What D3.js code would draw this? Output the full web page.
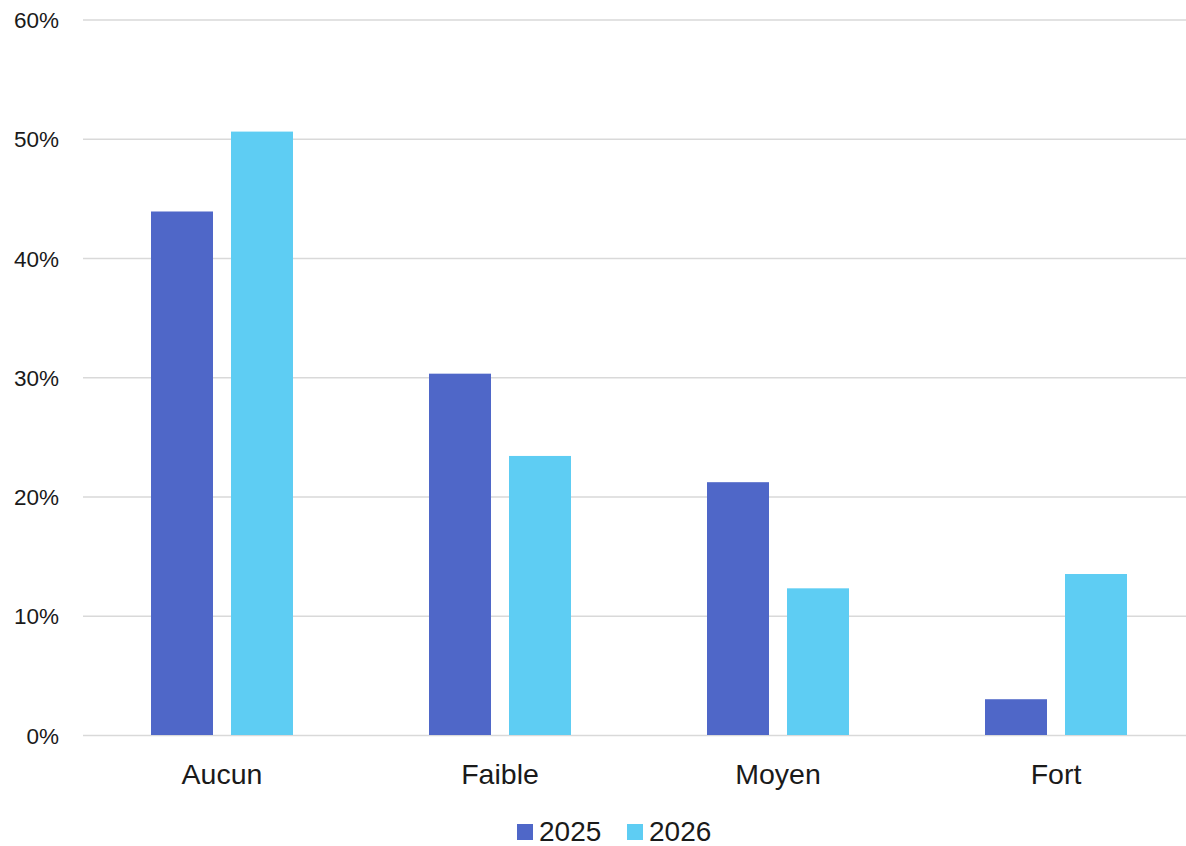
<!DOCTYPE html>
<html>
<head>
<meta charset="utf-8">
<script src="https://cdn.jsdelivr.net/npm/d3@7"></script>
<style>
  html, body { margin: 0; padding: 0; background: #fff; }
  svg { display: block; }
  text { font-family: "Liberation Sans", Arial, sans-serif; fill: #1a1a1a; }
</style>
</head>
<body>
<svg id="chart" width="1186" height="846"></svg>
<script>
const categories = ["Aucun", "Faible", "Moyen", "Fort"];
const seriesNames = ["2025", "2026"];
const values2025 = [43.9, 30.3, 21.2, 3.0];
const values2026 = [50.6, 23.4, 12.3, 13.5];
const yTicks = [0, 10, 20, 30, 40, 50, 60];
const colors = ["#4F67C8", "#5ECDF3"];

const seriesValues = [values2025, values2026];
const data = categories.map((c, i) => ({
  cat: c,
  vals: seriesNames.map((s, j) => ({ key: s, value: seriesValues[j][i] }))
}));

const svg = d3.select("#chart");
const x0 = d3.scaleBand().domain(categories).range([83, 1195]).paddingInner(0).paddingOuter(0);
const x1 = d3.scaleBand().domain(seriesNames).range([68, 210]).paddingInner(0.225).paddingOuter(0);
const y = d3.scaleLinear().domain([0, 60]).range([735, 19.5]);
const color = d3.scaleOrdinal().domain(seriesNames).range(colors);

// gridlines
const yAxis = d3.axisLeft(y).tickValues(yTicks).tickFormat(d => d + "%").tickSize(-(1195 - 83)).tickPadding(24);
const gy = svg.append("g").attr("transform", "translate(83,0)").call(yAxis);
gy.select(".domain").remove();
gy.selectAll(".tick line").attr("stroke", "#d9d9d9").attr("stroke-width", 1.5);
gy.selectAll(".tick text").style("font-size", "22.5px").attr("fill", "#1a1a1a").attr("dy", "0.36em");

// bars
const groups = svg.append("g").selectAll("g").data(data).join("g")
  .attr("transform", d => `translate(${x0(d.cat)},0)`);
groups.selectAll("rect").data(d => d.vals).join("rect")
  .attr("x", d => x1(d.key))
  .attr("width", x1.bandwidth())
  .attr("y", d => y(d.value))
  .attr("height", d => y(0) - y(d.value))
  .attr("fill", d => color(d.key));

// x axis labels
const xAxis = d3.axisBottom(x0).tickSize(0).tickPadding(0);
const gx = svg.append("g").attr("transform", "translate(0,735)").call(xAxis);
gx.select(".domain").remove();
gx.selectAll(".tick text").style("font-size", "28.5px").attr("fill", "#1a1a1a").attr("y", 49).attr("dy", 0);

// legend
const legend = svg.append("g");
const legendX = [517, 627];
seriesNames.forEach((s, i) => {
  const g = legend.append("g").attr("transform", `translate(${legendX[i]},824)`);
  g.append("rect").attr("width", 16).attr("height", 16).attr("fill", color(s));
  g.append("text").attr("x", 22).attr("y", 17).style("font-size", "28px").text(s);
});
</script>
</body>
</html>
